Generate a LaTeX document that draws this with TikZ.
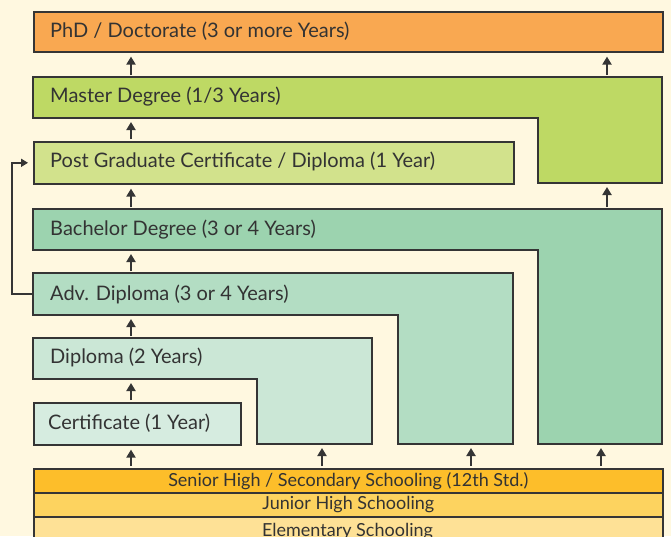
\documentclass[tikz,border=0pt]{standalone}
\usepackage{fontspec}
\setmainfont{Lato}
\usetikzlibrary{arrows.meta}
\definecolor{bgc}{HTML}{FFF8E0}
\definecolor{linec}{HTML}{353535}
\definecolor{textc}{HTML}{333333}
\definecolor{phdc}{HTML}{F9A851}
\definecolor{mastc}{HTML}{BED964}
\definecolor{pgc}{HTML}{D2E28C}
\definecolor{bachc}{HTML}{9CD3AF}
\definecolor{advc}{HTML}{B3DDC3}
\definecolor{dipc}{HTML}{CBE7D6}
\definecolor{certc}{HTML}{D6ECE0}
\definecolor{senc}{HTML}{FDBE2A}
\definecolor{junc}{HTML}{FDD35F}
\definecolor{elemc}{HTML}{FEE196}

\begin{document}
\begin{tikzpicture}[x=1pt,y=-1pt,
    box/.style={draw=linec,line width=1.6pt},
    rbox/.style={box,anchor=north west,inner sep=0pt},
    lbl/.style={anchor=west,inner sep=0pt,text=textc,font=\fontsize{20}{22}\selectfont},
    sch/.style={rbox,minimum width=629pt,minimum height=24pt,text=textc,font=\fontsize{18}{20}\selectfont},
    up/.style={draw=linec,line width=2.2pt,-{Triangle[length=8pt,width=9pt]},shorten <=2pt,shorten >=4pt}]

\useasboundingbox (0,0) rectangle (671,536);
\clip (0,0) rectangle (671,536);
\fill[bgc] (0,0) rectangle (671,536);

% columns of the arrows
\coordinate (c1) at (131,0);
\coordinate (c2) at (322,0);
\coordinate (c3) at (471,0);
\coordinate (c4) at (601,0);
\coordinate (c5) at (607,0);

% schooling
\node[sch,fill=elemc,minimum height=32pt] (elem) at (33,516) {};
\node[anchor=base,inner sep=0pt,text=textc,font=\fontsize{18}{20}\selectfont] (elemt) at (347.5,536) {Elementary Schooling};
\node[sch,fill=junc] (junior) at (33,492) {Junior High Schooling};
\node[sch,fill=senc] (senior) at (33,468) {Senior High / Secondary Schooling (12th Std.)};

% boxes
\node[rbox,fill=phdc,minimum width=629pt,minimum height=40pt] (phd) at (33,11) {};
\draw[box,fill=mastc] (33,77) -- (662,77) -- (662,183) coordinate (mastleg) -- (538,183) -- (538,118) -- (33,118) coordinate (mastbar) -- cycle;
\node[rbox,fill=pgc,minimum width=480pt,minimum height=42pt] (pg) at (33,141) {};
\draw[box,fill=bachc] (33,209) coordinate (bachtop) -- (662,209) -- (662,444) -- (538,444) coordinate (bachleg) -- (538,250) -- (33,250) coordinate (bachbar) -- cycle;
\draw[box,fill=advc] (33,273) coordinate (advtop) -- (513,273) -- (513,444) -- (398,444) coordinate (advleg) -- (398,315) -- (33,315) coordinate (advbar) -- cycle;
\draw[box,fill=dipc] (33,338) coordinate (diptop) -- (372,338) -- (372,444) -- (257,444) coordinate (dipleg) -- (257,379) -- (33,379) coordinate (dipbar) -- cycle;
\node[rbox,fill=certc,minimum width=207pt,minimum height=42pt] (cert) at (33,402) {};

% labels
\node[lbl] (phdt) at (50,31) {PhD / Doctorate (3 or more Years)};
\node[lbl] (mastt) at (50,97) {Master Degree (1/3 Years)};
\node[lbl] (pgt) at (50,161) {Post Graduate Certificate / Diploma (1 Year)};
\node[lbl] (bacht) at (50,230) {Bachelor Degree (3 or 4 Years)};
\node[lbl] (advt) at (50,294) {Adv. Diploma (3 or 4 Years)};
\node[lbl] (dipt) at (50,357) {Diploma (2 Years)};
\node[lbl] (certt) at (48,423) {Certificate (1 Year)};

% arrows
\draw[up] (mastbar -| c1) ++(0,-41) -- (phd.south -| c1);
\draw[up] (mastleg -| c5) ++(0,-106) -- (phd.south -| c5);
\draw[up] (pg.north -| c1) -- (mastbar -| c1);
\draw[up] (bachtop -| c1) -- (pg.south -| c1);
\draw[up] (bachtop -| c5) -- (mastleg -| c5);
\draw[up] (advtop -| c1) -- (bachbar -| c1);
\draw[up] (diptop -| c1) -- (advbar -| c1);
\draw[up] (cert.north -| c1) -- (dipbar -| c1);
\foreach \c/\t in {c1/cert.south,c2/dipleg,c3/advleg,c4/bachleg}
    \draw[up] (senior.north -| \c) -- (\t -| \c);
\draw[draw=linec,line width=2pt,-{Triangle[length=7pt,width=8pt]},shorten >=5pt] ([xshift=-17pt]advt.west) -- ++(-21,0) |- (pg.west);

\end{tikzpicture}
\end{document}
